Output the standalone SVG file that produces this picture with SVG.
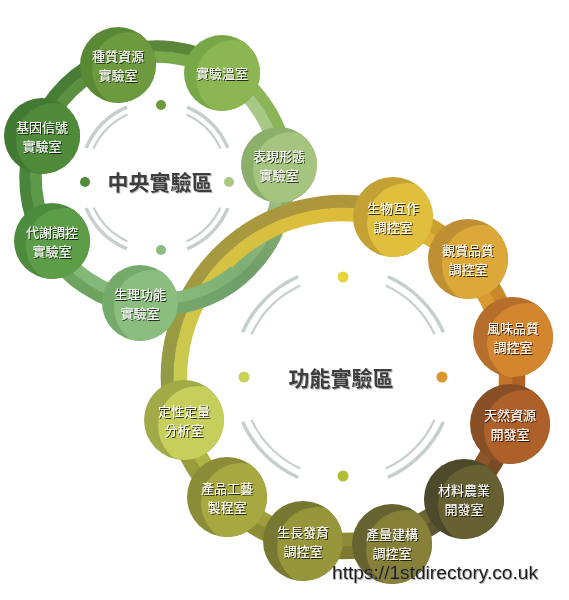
<svg xmlns="http://www.w3.org/2000/svg" width="569" height="600" viewBox="0 0 569 600">
<style>
.nt{font-family:"Noto Sans CJK TC","Noto Sans CJK SC",sans-serif;font-size:13px;fill:#fff;text-anchor:middle;filter:url(#ts)}
.ct{font-family:"Noto Sans CJK TC","Noto Sans CJK SC",sans-serif;font-size:21px;font-weight:bold;fill:#3d3d3d;text-anchor:middle;filter:url(#cs)}
.ga{fill:none;stroke:#c7cfce;stroke-width:3.5}
.gi{fill:none;stroke:#c7cfce;stroke-width:2.2}
.b{fill:none;stroke-width:11.5}
.f{fill:none;stroke-width:13.5}
.wm{font-family:"Liberation Sans",Arial,sans-serif;font-size:18px;fill:#1c1c1c;filter:url(#ws)}
</style>
<defs>
<filter id="ts" x="-20%" y="-20%" width="140%" height="140%"><feDropShadow dx="1" dy="1" stdDeviation="0.7" flood-color="#000" flood-opacity="0.75"/></filter>
<filter id="cs" x="-10%" y="-30%" width="120%" height="160%"><feDropShadow dx="1" dy="1" stdDeviation="0.6" flood-color="#888" flood-opacity="0.6"/></filter>
<filter id="ws" x="-5%" y="-30%" width="110%" height="160%"><feDropShadow dx="0.8" dy="0.8" stdDeviation="0.6" flood-color="#777" flood-opacity="0.8"/></filter>
<clipPath id="c38"><circle r="38"/></clipPath>
<clipPath id="c40"><circle r="40"/></clipPath>
<linearGradient id="g4o" gradientUnits="userSpaceOnUse" x1="290" y1="165" x2="140" y2="305"><stop offset="0" stop-color="#92b573"/><stop offset="0.5" stop-color="#6f9e6a"/><stop offset="1" stop-color="#76aa6e"/></linearGradient>
<linearGradient id="g4i" gradientUnits="userSpaceOnUse" x1="290" y1="165" x2="140" y2="305"><stop offset="0" stop-color="#a9c98a"/><stop offset="0.5" stop-color="#7dae74"/><stop offset="1" stop-color="#8bbd7f"/></linearGradient>
<linearGradient id="go" gradientUnits="userSpaceOnUse" x1="175" y1="425" x2="395" y2="210"><stop offset="0" stop-color="#8f9b46"/><stop offset="0.4" stop-color="#a49a40"/><stop offset="1" stop-color="#b1953c"/></linearGradient>
<linearGradient id="gi" gradientUnits="userSpaceOnUse" x1="185" y1="420" x2="390" y2="222"><stop offset="0" stop-color="#c5cd52"/><stop offset="0.45" stop-color="#d6c244"/><stop offset="1" stop-color="#dfbb38"/></linearGradient>
</defs>
<rect width="569" height="600" fill="#fff"/>

<g id="decor">
<path class="ga" d="M86.12,147.92 A77,77 0 0 1 126.92,107.12 M187.08,107.12 A77,77 0 0 1 227.88,147.92 M227.88,208.08 A77,77 0 0 1 187.08,248.88 M126.92,248.88 A77,77 0 0 1 86.12,208.08"/>
<path class="gi" d="M93.56,148.42 A70,70 0 0 1 127.42,114.56 M186.58,114.56 A70,70 0 0 1 220.44,148.42 M220.44,207.58 A70,70 0 0 1 186.58,241.44 M127.42,241.44 A70,70 0 0 1 93.56,207.58"/>
<path class="ga" d="M242.51,332.26 A110,110 0 0 1 298.26,276.51 M387.74,276.51 A110,110 0 0 1 443.49,332.26 M443.49,421.74 A110,110 0 0 1 387.74,477.49 M298.26,477.49 A110,110 0 0 1 242.51,421.74"/>
<path class="gi" d="M251.46,334.32 A101,101 0 0 1 300.32,285.46 M385.68,285.46 A101,101 0 0 1 434.54,334.32 M434.54,419.68 A101,101 0 0 1 385.68,468.54 M300.32,468.54 A101,101 0 0 1 251.46,419.68"/>
<circle cx="161" cy="105" r="5" fill="#6a9a3d"/>
<circle cx="85" cy="182" r="5" fill="#4f8a3a"/>
<circle cx="229" cy="182" r="5" fill="#a8c884"/>
<circle cx="161" cy="250" r="5" fill="#8bbd7e"/>
<circle cx="343" cy="277" r="5.5" fill="#e4d53c"/>
<circle cx="244" cy="377" r="5.5" fill="#c9d158"/>
<circle cx="442" cy="377" r="5.5" fill="#d9982e"/>
<circle cx="343" cy="476" r="5.5" fill="#b4bd3a"/>
<text class="ct" x="160" y="190">中央實驗區</text>
<text class="ct" x="341" y="386">功能實驗區</text>
</g>

<g id="connectors">
<g id="central-band">
<path class="b" stroke="#477d35" d="M32.96,132.86 A132,132 0 0 1 114.02,53.19"/>
<path class="b" stroke="#5a9040" d="M43.30,136.62 A121,121 0 0 1 117.60,63.59"/>
<path class="b" stroke="#5a873a" d="M114.02,53.19 A132,132 0 0 1 226.95,66.06"/>
<path class="b" stroke="#78a84a" d="M117.60,63.59 A121,121 0 0 1 221.12,75.39"/>
<path class="b" stroke="#8cb55a" d="M226.95,66.06 A132,132 0 0 1 288.27,164.21"/>
<path class="b" stroke="#a8c888" d="M221.12,75.39 A121,121 0 0 1 277.33,165.36"/>
<path class="b" stroke="url(#g4o)" d="M288.27,164.21 A132,132 0 0 1 138.63,308.72"/>
<path class="b" stroke="url(#g4i)" d="M277.33,165.36 A121,121 0 0 1 140.16,297.83"/>
<path class="b" stroke="#6da35e" d="M138.63,308.72 A132,132 0 0 1 43.85,245.98"/>
<path class="b" stroke="#84b878" d="M140.16,297.83 A121,121 0 0 1 53.28,240.32"/>
<path class="b" stroke="#4a853b" d="M43.85,245.98 A132,132 0 0 1 32.96,132.86"/>
<path class="b" stroke="#5c9a48" d="M53.28,240.32 A121,121 0 0 1 43.30,136.62"/>
</g>
<g id="functional-band">
<path class="f" stroke="#c9a030" d="M394.32,209.17 A175.5,175.5 0 0 1 470.52,256.41"/>
<path class="f" stroke="#dcb136" d="M390.52,221.60 A162.5,162.5 0 0 1 461.07,265.35"/>
<path class="f" stroke="#c8892b" d="M470.52,256.41 A175.5,175.5 0 0 1 513.87,336.92"/>
<path class="f" stroke="#d99a31" d="M461.07,265.35 A162.5,162.5 0 0 1 501.21,339.88"/>
<path class="f" stroke="#b06226" d="M513.87,336.92 A175.5,175.5 0 0 1 511.95,424.49"/>
<path class="f" stroke="#c5722a" d="M501.21,339.88 A162.5,162.5 0 0 1 499.44,420.97"/>
<path class="f" stroke="#7a4a24" d="M511.95,424.49 A175.5,175.5 0 0 1 466.66,501.53"/>
<path class="f" stroke="#8d5527" d="M499.44,420.97 A162.5,162.5 0 0 1 457.50,492.31"/>
<path class="f" stroke="#5e5830" d="M466.66,501.53 A175.5,175.5 0 0 1 392.54,545.36"/>
<path class="f" stroke="#6c6634" d="M457.50,492.31 A162.5,162.5 0 0 1 388.87,532.89"/>
<path class="f" stroke="#7d7a30" d="M392.54,545.36 A175.5,175.5 0 0 1 301.44,547.50"/>
<path class="f" stroke="#8f8a38" d="M388.87,532.89 A162.5,162.5 0 0 1 304.52,534.87"/>
<path class="f" stroke="#8c8c35" d="M301.44,547.50 A175.5,175.5 0 0 1 221.08,503.24"/>
<path class="f" stroke="#a09e3c" d="M304.52,534.87 A162.5,162.5 0 0 1 230.11,493.89"/>
<path class="f" stroke="#9a9c3c" d="M221.08,503.24 A175.5,175.5 0 0 1 173.55,422.72"/>
<path class="f" stroke="#b0b444" d="M230.11,493.89 A162.5,162.5 0 0 1 186.11,419.33"/>
<path class="f" stroke="url(#go)" d="M173.55,422.72 A175.5,175.5 0 0 1 394.32,209.17"/>
<path class="f" stroke="url(#gi)" d="M186.11,419.33 A162.5,162.5 0 0 1 390.52,221.60"/>
</g>
<g id="central-band-over">
<path class="b" stroke="url(#g4o)" d="M241.85,279.11 A132,132 0 0 1 138.63,308.72"/>
<path class="b" stroke="url(#g4i)" d="M234.78,270.69 A121,121 0 0 1 140.16,297.83"/>
</g>
</g>

<g id="n-jiyin" transform="translate(42,136)"><circle r="38" fill="#427a33"/><circle cx="12" cy="5" r="38" fill="#4f8b3b" clip-path="url(#c38)"/><text class="nt"><tspan x="0" y="-4.5">基因信號</tspan><tspan x="0" y="14.5">實驗室</tspan></text></g>
<g id="n-zhongzhi" transform="translate(118,65)"><circle r="38" fill="#5a8936"/><circle cx="12" cy="5" r="38" fill="#6d9a3f" clip-path="url(#c38)"/><text class="nt"><tspan x="0" y="-4.5">種質資源</tspan><tspan x="0" y="14.5">實驗室</tspan></text></g>
<g id="n-wenshi" transform="translate(222,73)"><circle r="38" fill="#77a747"/><circle cx="12" cy="5" r="38" fill="#8cb652" clip-path="url(#c38)"/><text class="nt" y="5">實驗溫室</text></g>
<g id="n-biaoxian" transform="translate(279,165)"><circle r="38" fill="#8caf6c"/><circle cx="12" cy="5" r="38" fill="#a5c47f" clip-path="url(#c38)"/><text class="nt"><tspan x="0" y="-4.5">表現形態</tspan><tspan x="0" y="14.5">實驗室</tspan></text></g>
<g id="n-shengli" transform="translate(140,303)"><circle r="38" fill="#74ab6b"/><circle cx="12" cy="5" r="38" fill="#8bbd7f" clip-path="url(#c38)"/><text class="nt"><tspan x="0" y="-4.5">生理功能</tspan><tspan x="0" y="14.5">實驗室</tspan></text></g>
<g id="n-daixie" transform="translate(52,241)"><circle r="38" fill="#4d8c3e"/><circle cx="12" cy="5" r="38" fill="#5e9d47" clip-path="url(#c38)"/><text class="nt"><tspan x="0" y="-4.5">代謝調控</tspan><tspan x="0" y="14.5">實驗室</tspan></text></g>

<g id="n-shengwu" transform="translate(393,217)"><circle r="40" fill="#c4a134"/><circle cx="14" cy="6" r="40" fill="#e0bf3c" clip-path="url(#c40)"/><text class="nt"><tspan x="0" y="-4.5">生物互作</tspan><tspan x="0" y="14.5">調控室</tspan></text></g>
<g id="n-guanshang" transform="translate(468,259)"><circle r="40" fill="#bf8f34"/><circle cx="14" cy="6" r="40" fill="#dca83a" clip-path="url(#c40)"/><text class="nt"><tspan x="0" y="-4.5">觀賞品質</tspan><tspan x="0" y="14.5">調控室</tspan></text></g>
<g id="n-fengwei" transform="translate(513,337)"><circle r="40" fill="#b56e2b"/><circle cx="14" cy="6" r="40" fill="#d4862e" clip-path="url(#c40)"/><text class="nt"><tspan x="0" y="-4.5">風味品質</tspan><tspan x="0" y="14.5">調控室</tspan></text></g>
<g id="n-tianran" transform="translate(510,424)"><circle r="40" fill="#884f27"/><circle cx="14" cy="6" r="40" fill="#ae602a" clip-path="url(#c40)"/><text class="nt"><tspan x="0" y="-4.5">天然資源</tspan><tspan x="0" y="14.5">開發室</tspan></text></g>
<g id="n-cailiao" transform="translate(464,499)"><circle r="40" fill="#4d492b"/><circle cx="14" cy="6" r="40" fill="#666033" clip-path="url(#c40)"/><text class="nt"><tspan x="0" y="-4.5">材料農業</tspan><tspan x="0" y="14.5">開發室</tspan></text></g>
<g id="n-chanliang" transform="translate(392,544)"><circle r="40" fill="#676330"/><circle cx="14" cy="6" r="40" fill="#878038" clip-path="url(#c40)"/><text class="nt"><tspan x="0" y="-5.5">產量建構</tspan><tspan x="0" y="13.5">調控室</tspan></text></g>
<g id="n-shengzhang" transform="translate(303,541)"><circle r="40" fill="#777832"/><circle cx="14" cy="6" r="40" fill="#98963b" clip-path="url(#c40)"/><text class="nt"><tspan x="0" y="-4.5">生長發育</tspan><tspan x="0" y="14.5">調控室</tspan></text></g>
<g id="n-chanpin" transform="translate(227,497)"><circle r="40" fill="#8a8c37"/><circle cx="14" cy="6" r="40" fill="#a8a840" clip-path="url(#c40)"/><text class="nt"><tspan x="0" y="-4.5">產品工藝</tspan><tspan x="0" y="14.5">製程室</tspan></text></g>
<g id="n-dingxing" transform="translate(184,420)"><circle r="40" fill="#a2aa48"/><circle cx="14" cy="6" r="40" fill="#c6ce5c" clip-path="url(#c40)"/><text class="nt"><tspan x="0" y="-4.5">定性定量</tspan><tspan x="0" y="14.5">分析室</tspan></text></g>

<text class="wm" x="332" y="578.5" textLength="206" lengthAdjust="spacingAndGlyphs">https://1stdirectory.co.uk</text>
</svg>
